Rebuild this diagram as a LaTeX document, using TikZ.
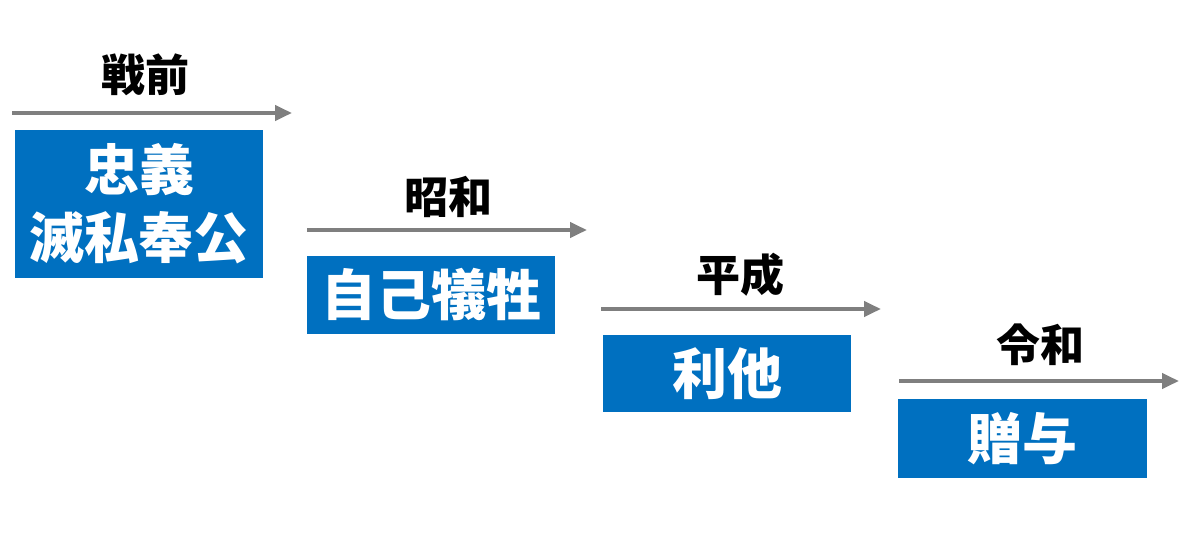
\documentclass[tikz,border=0pt]{standalone}
\usepackage{fontspec}
\setmainfont{Noto Sans CJK JP}
\usetikzlibrary{arrows.meta}
\definecolor{boxBlue}{HTML}{0070C0}
\definecolor{arrowGray}{HTML}{7F7F7F}

\begin{document}
\begin{tikzpicture}
[x=1pt,y=-1pt,%
  eraArrow/.style={draw=arrowGray,line width=4pt,-{Triangle[length=17pt,width=15pt]}},%
  eraLabel/.style={font=\bfseries\fontsize{44}{48}\selectfont,inner sep=0pt},%
  valueBox/.style={fill=boxBlue,text=white,align=center,inner sep=0pt,
    minimum width=248pt,font=\bfseries\fontsize{55}{68}\selectfont}]
\useasboundingbox (0,0) rectangle (1200,534);
%% eras: arrows and labels
\foreach \name/\xa/\xb/\y/\lx/\ly/\era in {
  senzen/12/292/113/145/75/戦前, showa/307/587/230/448/197/昭和,
  heisei/601/881/309/740/275/平成, reiwa/899/1179/381/1040/345/令和}
{
  \coordinate (\name-s) at (\xa,\y);
  \coordinate (\name-e) at (\xb,\y);
  \node (\name-label) at (\lx,\ly) [eraLabel] {\era};
  \draw[eraArrow] (\name-s) -- (\name-e);
}
%% value boxes
\node (chugi) at (139,204) [valueBox,minimum height=148pt] {忠義\\滅私奉公};
\node (gisei) at (431,295) [valueBox,minimum height=78pt] {自己犠牲};
\node (rita) at (727,373.5) [valueBox,minimum height=77pt] {利他};
\node (zoyo) at (1022.5,438.5) [valueBox,minimum width=249pt,minimum height=79pt] {贈与};
\end{tikzpicture}
\end{document}
